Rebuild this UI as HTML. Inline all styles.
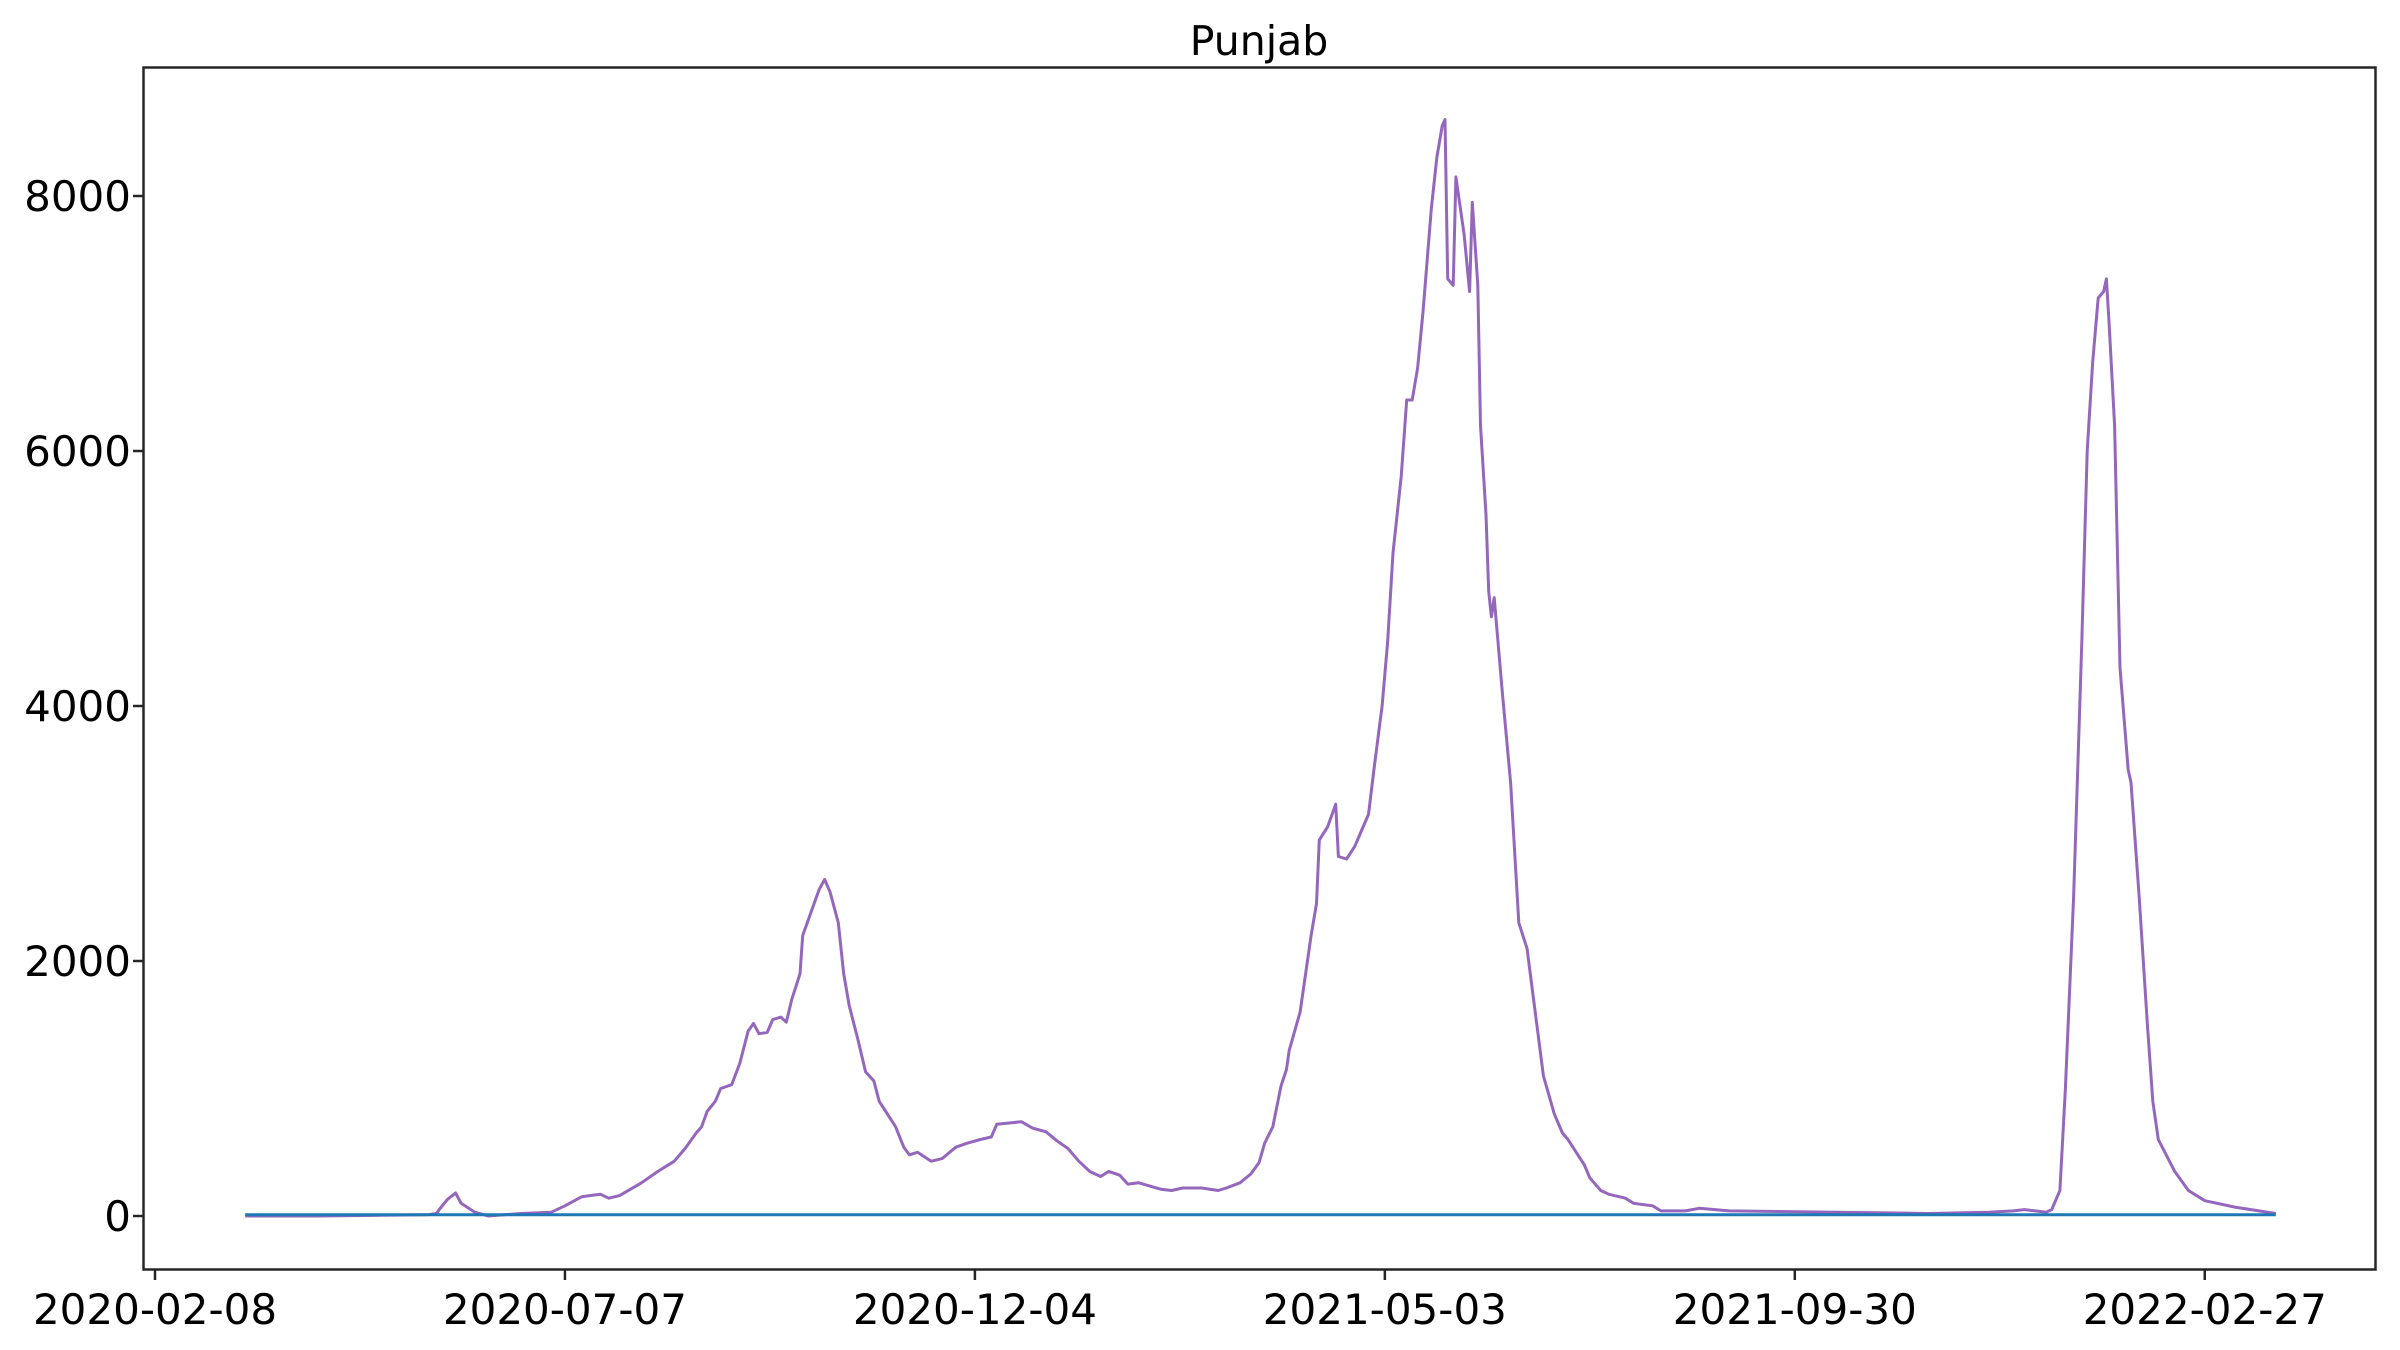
<!DOCTYPE html>
<html><head><meta charset="utf-8"><style>
html,body{margin:0;padding:0;background:#fff;}
svg{display:block;font-family:"DejaVu Sans","Liberation Sans",sans-serif;}
</style></head><body>
<svg id="chart" width="2400" height="1350" viewBox="0 0 2400 1350">
<rect x="0" y="0" width="2400" height="1350" fill="#fff"/>
<text x="1259" y="55" text-anchor="middle" font-size="41" fill="#000">Punjab</text>
<g id="ticks"></g>
<g id="series"></g>
<rect x="143.5" y="67.5" width="2232" height="1202" fill="none" stroke="#262626" stroke-width="2.5"/>
</svg>
<script>
// days since 2020-02-08
const days = [33,60,80,100,103,104,107,110,112,117,122,134,145,150,156,159,163,166,170,178,184,190,194,198,200,202,205,207,211,214,217,219,221,224,226,229,231,233,236,237,240,243,245,247,250,252,254,257,260,263,265,268,271,274,276,279,284,288,293,297,302,306,308,313,317,321,326,330,334,338,342,346,349,353,356,360,368,372,376,383,389,392,397,401,404,406,409,412,414,415,417,419,421,423,425,426,429,432,433,436,439,442,444,446,449,451,453,456,458,460,462,464,467,469,471,472,473,475,476,479,481,482,484,485,487,488,489,490,493,496,499,502,505,508,512,515,517,520,523,525,529,532,538,541,548,551,560,565,576,615,649,671,680,684,688,692,694,697,699,702,705,707,709,711,713,714,715,717,719,722,723,726,729,731,733,739,744,750,761,776];
const cases = [0,0,5,10,20,50,130,180,100,30,0,20,30,80,150,160,170,140,160,260,350,430,530,650,700,820,900,1000,1030,1200,1450,1510,1430,1440,1540,1560,1520,1700,1900,2200,2380,2560,2640,2540,2300,1900,1650,1400,1130,1060,900,800,700,540,480,500,430,450,540,570,600,620,720,730,740,690,660,590,530,430,350,310,350,320,250,260,210,200,220,220,200,220,260,330,420,570,700,1020,1150,1300,1450,1600,1900,2200,2450,2950,3050,3230,2820,2800,2900,3050,3150,3500,4000,4500,5200,5800,6400,6400,6650,7100,7900,8300,8550,8600,7350,7300,8150,7700,7250,7950,7300,6200,5500,4900,4700,4850,4100,3400,2300,2100,1600,1100,800,650,600,500,400,300,200,170,140,100,80,40,40,60,40,30,20,30,40,50,40,30,50,200,1000,2500,4500,6000,6700,7200,7250,7350,7000,6200,4300,3500,3400,2500,1500,900,600,350,200,120,70,20];
const baselineDays = [33,776];
const baselineVals = [10,10];
const yTicks = [0,2000,4000,6000,8000];
const xTickDays = [0,150,300,450,600,750];
const xTickLabels = ["2020-02-08","2020-07-07","2020-12-04","2021-05-03","2021-09-30","2022-02-27"];

const NS="http://www.w3.org/2000/svg";
function xs(d){return 155+d*2.733;}
function ys(v){return 1216-v*0.1275;}
const tg=document.getElementById('ticks'), sg=document.getElementById('series');
yTicks.forEach(v=>{
  const l=document.createElementNS(NS,'line');
  l.setAttribute('x1',133);l.setAttribute('x2',143);l.setAttribute('y1',ys(v));l.setAttribute('y2',ys(v));
  l.setAttribute('stroke','#262626');l.setAttribute('stroke-width','2.5');
  
  
  tg.appendChild(l);
  const t=document.createElementNS(NS,'text');
  t.setAttribute('x',131);t.setAttribute('y',ys(v)+15);t.setAttribute('text-anchor','end');t.setAttribute('font-size','42');
  t.textContent=v;
  
  
  tg.appendChild(t);
});
xTickDays.forEach((d,i)=>{
  const l=document.createElementNS(NS,'line');
  l.setAttribute('x1',xs(d));l.setAttribute('x2',xs(d));l.setAttribute('y1',1270);l.setAttribute('y2',1280);
  l.setAttribute('stroke','#262626');l.setAttribute('stroke-width','2.5');
  
  
  tg.appendChild(l);
  const t=document.createElementNS(NS,'text');
  t.setAttribute('x',xs(d));t.setAttribute('y',1324);t.setAttribute('text-anchor','middle');t.setAttribute('font-size','42');
  t.textContent=xTickLabels[i];
  
  
  tg.appendChild(t);
});
function line(dd,vv,color,name){
  const p=document.createElementNS(NS,'polyline');
  p.setAttribute('points',dd.map((d,i)=>xs(d).toFixed(1)+','+ys(vv[i]).toFixed(1)).join(' '));
  p.setAttribute('fill','none');p.setAttribute('stroke',color);p.setAttribute('stroke-width','3');p.setAttribute('stroke-linejoin','round');
  
  
  sg.appendChild(p);
}
line(days,cases,'#9467bd','cases-line');
line(baselineDays,baselineVals,'#1f77b4','baseline-line');
</script>
</body></html>
